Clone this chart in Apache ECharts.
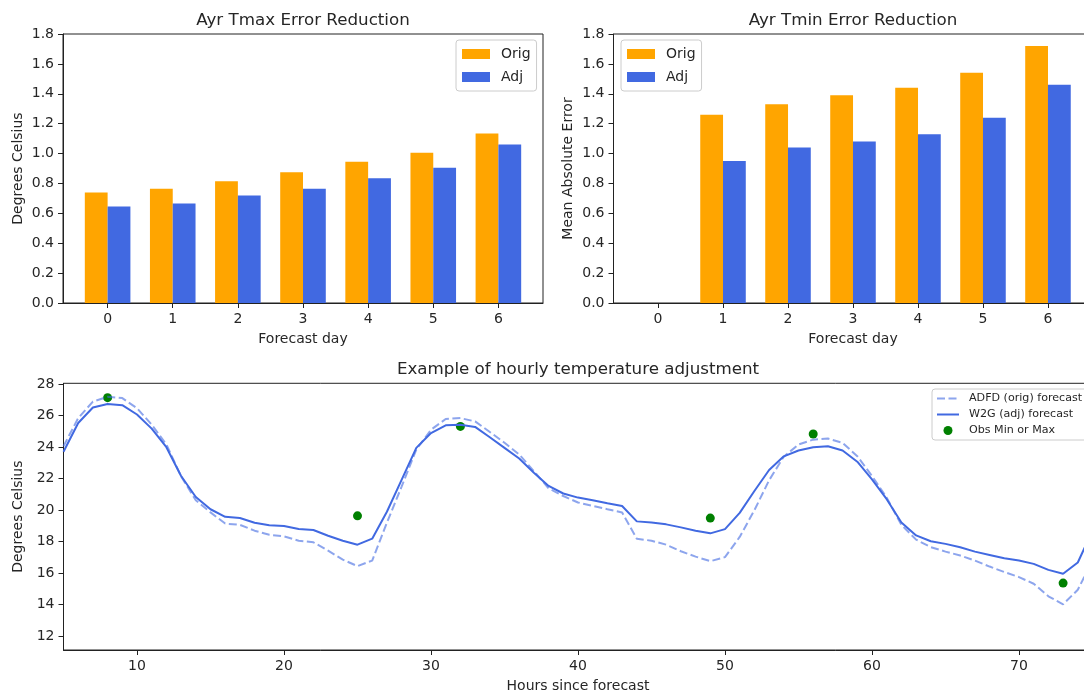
<!DOCTYPE html>
<html>
<head>
<meta charset="utf-8">
<script src="https://cdn.jsdelivr.net/npm/echarts@6/dist/echarts.min.js"></script>
<style>
html,body{margin:0;padding:0;background:#fff;overflow:hidden;}
#chart{width:1100px;height:694px;}
</style>
</head>
<body>
<div id="chart"></div>
<script>
// ---------- data ----------
const forecastDays = [0, 1, 2, 3, 4, 5, 6];
const tmaxOrig = [0.74, 0.765, 0.815, 0.875, 0.945, 1.005, 1.135];
const tmaxAdj  = [0.645, 0.665, 0.72, 0.765, 0.835, 0.905, 1.06];
const tminOrig = [null, 1.26, 1.33, 1.39, 1.44, 1.54, 1.72];
const tminAdj  = [null, 0.95, 1.04, 1.08, 1.13, 1.24, 1.46];

const hours = [5,6,7,8,9,10,11,12,13,14,15,16,17,18,19,20,21,22,23,24,25,26,27,28,29,30,
  31,32,33,34,35,36,37,38,39,40,41,42,43,44,45,46,47,48,49,50,51,52,53,54,55,56,57,58,59,60,
  61,62,63,64,65,66,67,68,69,70,71,72,73,74,75];
const adfdOrig = [24.06,25.85,26.9,27.2,27.12,26.48,25.43,24.17,22.15,20.63,19.86,19.15,19.07,18.7,
  18.44,18.34,18.06,17.96,17.43,16.86,16.45,16.8,19.2,21.5,23.85,25.11,25.79,25.85,25.64,24.97,
  24.28,23.54,22.48,21.39,20.9,20.49,20.27,20.06,19.86,18.19,18.06,17.81,17.39,17.05,16.76,17.02,
  18.3,20.0,21.9,23.4,24.17,24.48,24.55,24.28,23.43,22.17,20.8,19.07,18.13,17.65,17.37,17.12,
  16.8,16.42,16.07,15.75,15.33,14.53,14.02,14.95,16.8];
const w2gAdj = [23.71,25.54,26.52,26.74,26.67,26.08,25.18,24.0,22.17,20.84,20.06,19.58,19.5,19.2,
  19.05,18.99,18.8,18.74,18.38,18.06,17.81,18.19,19.9,21.93,23.96,24.9,25.39,25.43,25.29,24.63,
  23.96,23.28,22.38,21.54,21.06,20.8,20.63,20.44,20.27,19.29,19.22,19.1,18.91,18.7,18.53,18.8,
  19.83,21.22,22.55,23.42,23.79,24.0,24.06,23.79,23.08,21.96,20.7,19.22,18.4,18.03,17.86,17.65,
  17.37,17.16,16.95,16.8,16.59,16.21,15.96,16.68,18.7];
const obsHours  = [8, 25, 32, 49, 56, 73];
const obsValues = [27.15, 19.64, 25.32, 19.5, 24.84, 15.37];

const hourTicks = [10, 20, 30, 40, 50, 60, 70];
const tempTicks = [12, 14, 16, 18, 20, 22, 24, 26, 28];

// ---------- styling ----------
const FONT = 'DejaVu Sans';
const TXT = '#262626';
const ORANGE = '#FFA500';
const BLUE = '#4169E1';
const GREEN = '#008000';

const grids = [
  {left: 63, top: 34, width: 480, height: 269},
  {left: 613.5, top: 34, width: 479, height: 269},
  {left: 63.5, top: 383.3, width: 1029, height: 268.4}
];
const barXMin = -0.685, barXMax = 6.685;
const barFrac = 0.35;
const barPx = barFrac * grids[0].width / (barXMax - barXMin);

function pairs(xs, ys, shift) {
  const out = [];
  xs.forEach((x, i) => { if (ys[i] !== null) out.push([x + shift, ys[i]]); });
  return out;
}

const axisLineStyle = {show: true, onZero: false, lineStyle: {color: '#222', width: 1}};
const tickStyle = {show: true, length: 5, lineStyle: {color: '#222', width: 1}};
const labelStyle = {color: TXT, fontFamily: FONT, fontSize: 14};

function barXAxis(gridIndex) {
  return {
    type: 'value', gridIndex, min: barXMin, max: barXMax,
    axisLine: axisLineStyle, splitLine: {show: false},
    axisTick: Object.assign({}, tickStyle, {customValues: forecastDays}),
    axisLabel: Object.assign({}, labelStyle, {customValues: forecastDays, margin: 9,
      formatter: v => String(Math.round(v))}),
    name: 'Forecast day', nameLocation: 'middle', nameGap: 29,
    nameTextStyle: {color: TXT, fontFamily: FONT, fontSize: 14}
  };
}
function barYAxis(gridIndex, name) {
  return {
    type: 'value', gridIndex, min: 0, max: 1.8, interval: 0.2,
    axisLine: axisLineStyle, splitLine: {show: false},
    axisTick: tickStyle,
    axisLabel: Object.assign({}, labelStyle, {margin: 9, formatter: v => v.toFixed(1)}),
    name, nameLocation: 'middle', nameGap: 38,
    nameTextStyle: {color: TXT, fontFamily: FONT, fontSize: 14}
  };
}

function legendBox(pos, fontSize, gap, pad, iw, ih) {
  return Object.assign({
    orient: 'vertical', selectedMode: false,
    backgroundColor: 'rgba(255,255,255,0.8)', borderColor: '#cccccc', borderWidth: 1,
    borderRadius: 3, padding: pad, itemGap: gap, itemWidth: iw, itemHeight: ih,
    textStyle: {color: TXT, fontFamily: FONT, fontSize: fontSize, padding: [0, 0, 0, Math.round(fontSize * 0.45)]}
  }, pos);
}

const option = {
  animation: false,
  backgroundColor: '#fff',
  title: [
    {text: 'Ayr Tmax Error Reduction', left: 303, top: 12, textAlign: 'center', padding: 0,
      textStyle: {fontFamily: FONT, fontSize: 16.7, fontWeight: 'normal', color: TXT}},
    {text: 'Ayr Tmin Error Reduction', left: 853, top: 12, textAlign: 'center', padding: 0,
      textStyle: {fontFamily: FONT, fontSize: 16.7, fontWeight: 'normal', color: TXT}},
    {text: 'Example of hourly temperature adjustment', left: 578, top: 361, textAlign: 'center', padding: 0,
      textStyle: {fontFamily: FONT, fontSize: 16.7, fontWeight: 'normal', color: TXT}}
  ],
  legend: [
    legendBox({left: 456, top: 40, data: [{name: 'Orig', icon: 'rect'}, {name: 'Adj', icon: 'rect'}]},
      14, 9, [7, 6, 7, 6], 28, 10),
    legendBox({left: 621, top: 40, data: [{name: 'Orig', icon: 'rect'}, {name: 'Adj', icon: 'rect'}]},
      14, 9, [7, 6, 7, 6], 28, 10),
    legendBox({left: 932, top: 389, data: [
        {name: 'ADFD (orig) forecast'},
        {name: 'W2G (adj) forecast'},
        {name: 'Obs Min or Max', icon: 'circle', itemStyle: {color: GREEN, opacity: 1}}]},
      11.1, 5, [4, 6, 4, 4], 22, 9)
  ],
  grid: grids.map(g => Object.assign({show: true, borderColor: '#222', borderWidth: 1,
    backgroundColor: 'transparent', containLabel: false}, g)),
  xAxis: [
    barXAxis(0),
    barXAxis(1),
    {
      type: 'value', gridIndex: 2, min: 5, max: 75,
      axisLine: axisLineStyle, splitLine: {show: false},
      axisTick: Object.assign({}, tickStyle, {customValues: hourTicks}),
      axisLabel: Object.assign({}, labelStyle, {customValues: hourTicks, margin: 9}),
      name: 'Hours since forecast', nameLocation: 'middle', nameGap: 29,
      nameTextStyle: {color: TXT, fontFamily: FONT, fontSize: 14}
    }
  ],
  yAxis: [
    barYAxis(0, 'Degrees Celsius'),
    barYAxis(1, 'Mean Absolute Error'),
    {
      type: 'value', gridIndex: 2, min: 11.12, max: 28.06,
      axisLine: axisLineStyle, splitLine: {show: false},
      axisTick: Object.assign({}, tickStyle, {customValues: tempTicks}),
      axisLabel: Object.assign({}, labelStyle, {customValues: tempTicks, margin: 9}),
      name: 'Degrees Celsius', nameLocation: 'middle', nameGap: 38,
      nameTextStyle: {color: TXT, fontFamily: FONT, fontSize: 14}
    }
  ],
  series: [
    {name: 'Orig', type: 'bar', xAxisIndex: 0, yAxisIndex: 0, barWidth: barPx, barGap: '-100%',
      itemStyle: {color: ORANGE}, data: pairs(forecastDays, tmaxOrig, -barFrac / 2)},
    {name: 'Adj', type: 'bar', xAxisIndex: 0, yAxisIndex: 0, barWidth: barPx, barGap: '-100%',
      itemStyle: {color: BLUE}, data: pairs(forecastDays, tmaxAdj, barFrac / 2)},
    {name: 'Orig', type: 'bar', xAxisIndex: 1, yAxisIndex: 1, barWidth: barPx, barGap: '-100%',
      itemStyle: {color: ORANGE}, data: pairs(forecastDays, tminOrig, -barFrac / 2)},
    {name: 'Adj', type: 'bar', xAxisIndex: 1, yAxisIndex: 1, barWidth: barPx, barGap: '-100%',
      itemStyle: {color: BLUE}, data: pairs(forecastDays, tminAdj, barFrac / 2)},
    {name: 'ADFD (orig) forecast', type: 'line', xAxisIndex: 2, yAxisIndex: 2,
      symbol: 'circle', showSymbol: false,
      itemStyle: {color: BLUE, opacity: 0},
      lineStyle: {color: BLUE, width: 2, type: [8, 3.5], opacity: 0.6},
      data: pairs(hours, adfdOrig, 0)},
    {name: 'W2G (adj) forecast', type: 'line', xAxisIndex: 2, yAxisIndex: 2,
      symbol: 'circle', showSymbol: false,
      itemStyle: {color: BLUE, opacity: 0},
      lineStyle: {color: BLUE, width: 2, opacity: 1},
      data: pairs(hours, w2gAdj, 0)},
    {name: 'Obs Min or Max', type: 'scatter', xAxisIndex: 2, yAxisIndex: 2, symbolSize: 9,
      itemStyle: {color: GREEN, opacity: 1},
      data: pairs(obsHours, obsValues, 0)}
  ]
};

const chart = echarts.init(document.getElementById('chart'), null, {renderer: 'canvas'});
chart.setOption(option);
</script>
</body>
</html>
